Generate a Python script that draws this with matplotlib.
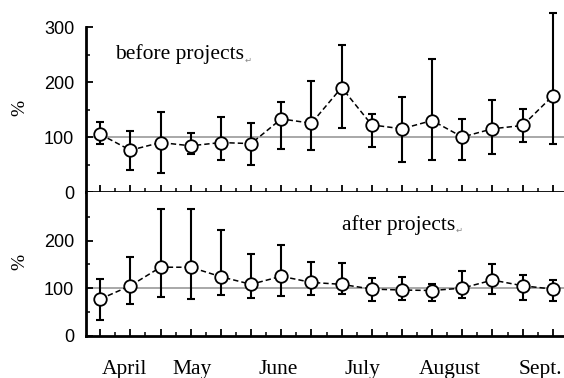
# Monthly ratio (%) before and after the projects, mean with error range
import numpy as np
from matplotlib import pyplot as plt

# %% Data
n_obs = 16
before_mean = [105, 76, 90, 84, 90, 88, 133, 125, 190, 122, 115, 130, 100, 115, 121, 175]
before_low = [87, 40, 35, 70, 59, 50, 78, 76, 117, 82, 55, 58, 58, 70, 91, 88]
before_high = [127, 111, 146, 108, 136, 125, 164, 201, 268, 141, 173, 241, 133, 168, 151, 325]
after_mean = [77, 105, 144, 144, 124, 108, 125, 112, 108, 98, 96, 95, 100, 117, 105, 98]
after_low = [33, 66, 82, 77, 86, 79, 84, 86, 87, 73, 75, 72, 79, 87, 75, 72]
after_high = [119, 165, 266, 267, 222, 171, 190, 154, 152, 121, 123, 109, 135, 151, 128, 117]
months = ["April", "May", "June", "July", "August", "Sept."]
month_pos = [0.8, 3.05, 5.9, 8.7, 11.6, 14.6]
panel_titles = ["before projects", "after projects"]

# %% Figure
fig = plt.figure(figsize=(5.64, 3.78), dpi=100)
ax_top = fig.add_axes([0.1525, 0.492, 0.8475, 0.4365])
ax_bot = fig.add_axes([0.1525, 0.112, 0.8475, 0.381])

x = np.arange(n_obs)
tick_font = dict(family="Liberation Sans", size=13)


def draw_panel(ax, mean, low, high, ylim, yticks, title, title_xy):
    mean = np.asarray(mean, float)
    yerr = [mean - np.asarray(low), np.asarray(high) - mean]
    ax.axhline(100, color="#9a9a9a", lw=1.2, zorder=1)
    ax.errorbar(x, mean, yerr=yerr, fmt="none", ecolor="black",
                elinewidth=1.5, capsize=3.2, capthick=1.5, zorder=2,
                clip_on=False)
    ax.plot(x, mean, ls=(0, (3.5, 2)), color="black", lw=1.1, marker="o",
            ms=9, mfc="white", mec="black", mew=1.3, zorder=3, clip_on=False)
    ax.set_xlim(-0.47, 15.37)
    ax.set_ylim(*ylim)
    ax.set_yticks(yticks)
    ax.set_yticks(np.arange(50, ylim[1], 100), minor=True)
    ax.set_xticks(x)
    ax.set_xticks(x[:-1] + 0.5, minor=True)
    ax.set_xticklabels([])
    for s in ["top", "right"]:
        ax.spines[s].set_visible(False)
    for s in ["left", "bottom"]:
        ax.spines[s].set_linewidth(2)
    ax.tick_params(axis="both", which="major", direction="in", length=5,
                   width=1.3, pad=8.5)
    ax.tick_params(axis="both", which="minor", direction="in", length=3,
                   width=1.1)
    for lab in ax.get_yticklabels():
        lab.set_fontfamily(tick_font["family"])
        lab.set_fontsize(tick_font["size"])
    t = ax.text(*title_xy, title, family="Liberation Serif", fontsize=15.5,
                va="baseline", ha="left")
    # small return mark after the title
    ax.annotate("\u21b5", xy=(1, 0), xycoords=t, xytext=(0.5, 0),
                textcoords="offset points", fontsize=6, color="#888888",
                va="bottom", family="DejaVu Sans")


draw_panel(ax_top, before_mean, before_low, before_high, (0, 300),
           [0, 100, 200, 300], panel_titles[0], (0.5, 241))
draw_panel(ax_bot, after_mean, after_low, after_high, (0, 303),
           [0, 100, 200], panel_titles[1], (8.0, 222))

# Month names under the lower axis
for m, p in zip(months, month_pos):
    ax_bot.annotate(m, xy=(p, 0), xycoords=("data", "axes fraction"),
                    xytext=(0, -27.5), textcoords="offset points",
                    ha="center", va="baseline", family="Liberation Serif",
                    fontsize=15.5)

# Y axis labels
fig.text(20 / 564, 1 - 108 / 378, "%", rotation=90, ha="center",
         va="center", family="Liberation Serif", fontsize=14)
fig.text(20 / 564, 1 - 262 / 378, "%", rotation=90, ha="center",
         va="center", family="Liberation Serif", fontsize=14)

fig.savefig("out.png", dpi=100)
